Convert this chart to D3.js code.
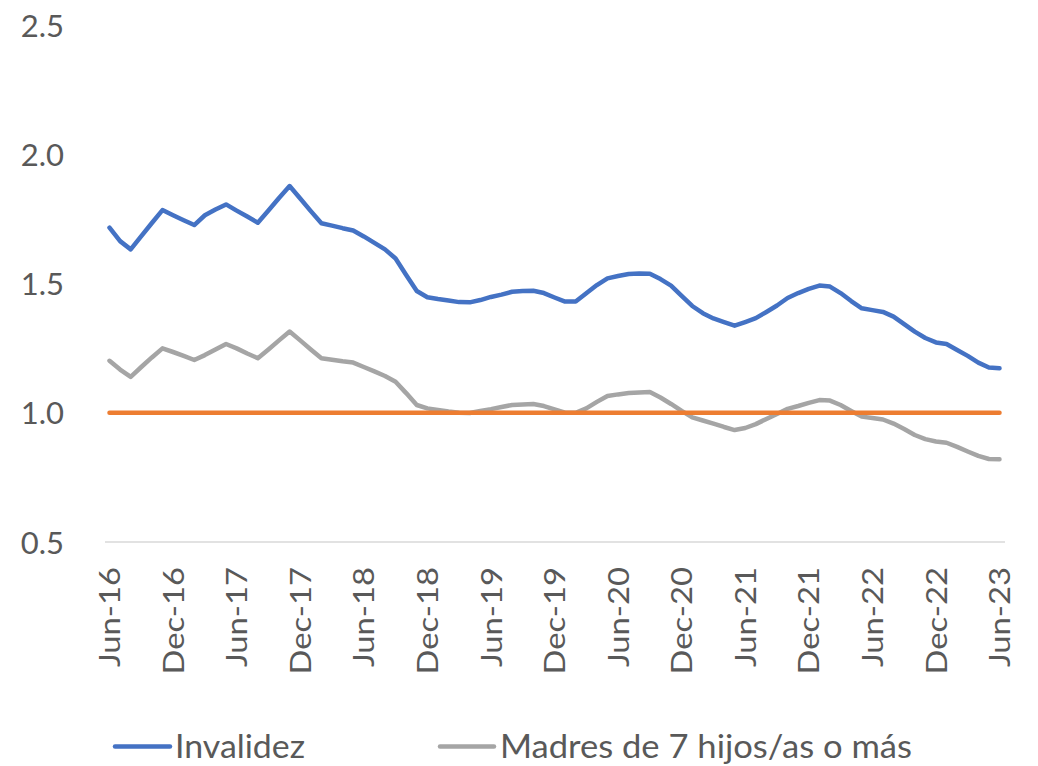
<!DOCTYPE html>
<html>
<head>
<meta charset="utf-8">
<script src="https://cdn.jsdelivr.net/npm/d3@7"></script>
<style>
  html, body { margin: 0; padding: 0; background: #ffffff; }
  svg { display: block; }
  text { font-family: Lato, "Open Sans", sans-serif; fill: #595959; }
</style>
</head>
<body>
<svg id="chart" width="1038" height="766"></svg>
<script>
// ---- Data ----
const months = [
  "Jun-16","Jul-16","Aug-16","Sep-16","Oct-16","Nov-16","Dec-16",
  "Jan-17","Feb-17","Mar-17","Apr-17","May-17","Jun-17","Jul-17","Aug-17","Sep-17","Oct-17","Nov-17","Dec-17",
  "Jan-18","Feb-18","Mar-18","Apr-18","May-18","Jun-18","Jul-18","Aug-18","Sep-18","Oct-18","Nov-18","Dec-18",
  "Jan-19","Feb-19","Mar-19","Apr-19","May-19","Jun-19","Jul-19","Aug-19","Sep-19","Oct-19","Nov-19","Dec-19",
  "Jan-20","Feb-20","Mar-20","Apr-20","May-20","Jun-20","Jul-20","Aug-20","Sep-20","Oct-20","Nov-20","Dec-20",
  "Jan-21","Feb-21","Mar-21","Apr-21","May-21","Jun-21","Jul-21","Aug-21","Sep-21","Oct-21","Nov-21","Dec-21",
  "Jan-22","Feb-22","Mar-22","Apr-22","May-22","Jun-22","Jul-22","Aug-22","Sep-22","Oct-22","Nov-22","Dec-22",
  "Jan-23","Feb-23","Mar-23","Apr-23","May-23","Jun-23"
];

const tickLabels = ["Jun-16","Dec-16","Jun-17","Dec-17","Jun-18","Dec-18","Jun-19","Dec-19",
                    "Jun-20","Dec-20","Jun-21","Dec-21","Jun-22","Dec-22","Jun-23"];

const invalidez = [
  1.716,1.664,1.632,1.683,1.734,1.784,1.764,1.745,1.726,1.764,1.786,1.806,1.782,1.759,1.735,
  1.782,1.831,1.877,1.829,1.780,1.733,1.724,1.714,1.705,1.682,1.657,1.632,1.597,1.533,1.471,
  1.447,1.440,1.434,1.428,1.427,1.436,1.448,1.457,1.468,1.471,1.472,1.463,1.446,1.430,1.430,
  1.462,1.494,1.520,1.529,1.537,1.539,1.538,1.517,1.492,1.452,1.413,1.385,1.365,1.351,1.337,
  1.351,1.366,1.390,1.415,1.444,1.463,1.479,1.492,1.488,1.463,1.432,1.404,1.397,1.390,1.372,
  1.343,1.314,1.289,1.272,1.266,1.243,1.220,1.194,1.175,1.172
];

const madres = [
  1.201,1.167,1.139,1.177,1.214,1.249,1.235,1.220,1.204,1.223,1.245,1.266,1.249,1.229,1.211,
  1.245,1.280,1.314,1.280,1.245,1.211,1.205,1.199,1.194,1.177,1.160,1.142,1.120,1.076,1.030,
  1.017,1.011,1.005,1.000,0.999,1.007,1.014,1.022,1.030,1.032,1.034,1.026,1.013,1.000,1.000,
  1.017,1.042,1.065,1.071,1.076,1.078,1.080,1.059,1.034,1.007,0.982,0.970,0.958,0.945,0.933,
  0.941,0.956,0.976,0.995,1.015,1.026,1.038,1.049,1.047,1.030,1.007,0.985,0.980,0.974,0.958,
  0.937,0.914,0.898,0.889,0.884,0.868,0.850,0.833,0.821,0.820
];

const referencia = 1.0;

const yTicks = [0.5, 1.0, 1.5, 2.0, 2.5];

const seriesNames = ["Invalidez", "Madres de 7 hijos/as o más"];
const colors = { invalidez: "#4472C4", madres: "#A5A5A5", ref: "#ED7D31" };

// ---- Layout ----
const svg = d3.select("#chart");
const x = d3.scalePoint().domain(months).range([109.5, 999.5]);
const y = d3.scaleLinear().domain([0.5, 2.5]).range([542, 25]);

// axis baseline
svg.append("line")
  .attr("x1", 105).attr("x2", 1005)
  .attr("y1", y(0.5)).attr("y2", y(0.5))
  .attr("stroke", "#D9D9D9").attr("stroke-width", 1.5);

// y axis labels
const yAxis = d3.axisLeft(y).tickValues(yTicks).tickFormat(d3.format(".1f")).tickSize(0).tickPadding(0);
const yg = svg.append("g").attr("transform", "translate(64,0)").call(yAxis);
yg.select(".domain").remove();
yg.selectAll("text")
  .attr("font-family", "Lato, sans-serif")
  .attr("font-size", 31)
  .attr("fill", "#595959")
  .attr("dy", "0.36em");

// x axis labels
const xAxis = d3.axisBottom(x).tickValues(tickLabels).tickSize(0).tickPadding(0);
const xg = svg.append("g").attr("transform", "translate(0,567)").call(xAxis);
xg.select(".domain").remove();
xg.selectAll("text")
  .attr("font-family", "Lato, sans-serif")
  .attr("font-size", 28)
  .attr("fill", "#595959")
  .attr("text-anchor", "end")
  .attr("y", 0)
  .attr("dy", "0.36em")
  .attr("transform", "rotate(-90) scale(1.17,1)");

// lines
const line = d3.line()
  .x((d, i) => x(months[i]))
  .y(d => y(d));

svg.append("path")
  .datum(invalidez)
  .attr("d", line)
  .attr("fill", "none")
  .attr("stroke", colors.invalidez)
  .attr("stroke-width", 4.5)
  .attr("stroke-linejoin", "round")
  .attr("stroke-linecap", "round");

svg.append("path")
  .datum(madres)
  .attr("d", line)
  .attr("fill", "none")
  .attr("stroke", colors.madres)
  .attr("stroke-width", 4.5)
  .attr("stroke-linejoin", "round")
  .attr("stroke-linecap", "round");

svg.append("line")
  .attr("x1", x(months[0])).attr("x2", x(months[months.length - 1]))
  .attr("y1", y(referencia)).attr("y2", y(referencia))
  .attr("stroke", colors.ref)
  .attr("stroke-width", 4.5)
  .attr("stroke-linecap", "round");

// legend
const legend = [
  { name: seriesNames[0], color: colors.invalidez, x1: 115, x2: 170, tx: 175, len: 130 },
  { name: seriesNames[1], color: colors.madres, x1: 440, x2: 494, tx: 500, len: 412 }
];
const lg = svg.append("g");
legend.forEach(l => {
  lg.append("line")
    .attr("x1", l.x1).attr("x2", l.x2)
    .attr("y1", 746.5).attr("y2", 746.5)
    .attr("stroke", l.color).attr("stroke-width", 4.5).attr("stroke-linecap", "round");
  lg.append("text")
    .attr("x", l.tx).attr("y", 757.5)
    .attr("font-family", "Lato, sans-serif")
    .attr("font-size", 32)
    .attr("fill", "#595959")
    .attr("textLength", l.len)
    .attr("lengthAdjust", "spacingAndGlyphs")
    .text(l.name);
});
</script>
</body>
</html>
